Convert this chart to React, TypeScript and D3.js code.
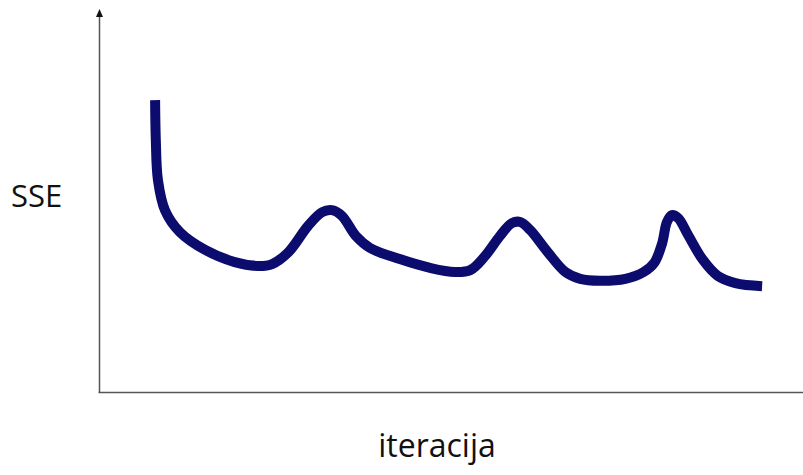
import React from "react";
import * as d3 from "d3";

const iterations = [8.1, 8.2, 8.5, 9.5, 11.6, 15.2, 19.4, 22.7, 24.7, 27.0, 29.8, 31.8, 33.2, 34.6, 36.6, 38.6, 42.8, 47.1, 50.6, 52.8, 54.9, 57.0, 58.7, 59.9, 61.3, 63.8, 66.3, 68.4, 71.2, 74.8, 77.4, 78.9, 80.0, 80.7, 81.4, 82.3, 83.7, 85.8, 87.9, 90.4, 94.2];
const sse = [76.4, 66.0, 55.5, 47.6, 41.9, 37.2, 34.0, 33.0, 33.5, 36.6, 43.5, 47.1, 47.6, 46.1, 40.8, 37.7, 34.8, 32.5, 31.4, 31.9, 35.6, 40.8, 44.2, 44.5, 42.4, 36.6, 31.4, 29.6, 29.1, 29.6, 31.4, 33.8, 38.8, 44.5, 46.3, 45.5, 41.1, 34.6, 30.4, 28.5, 27.7];

const xLabel = "iteracija";
const yLabel = "SSE";

export default function App() {
  const width = 803;
  const height = 475;
  const left = 99.5;
  const bottom = 392.5;
  const top = 10;
  const x = d3.scaleLinear().domain([0, 100]).range([98, 803]);
  const y = d3.scaleLinear().domain([0, 100]).range([392, 10]);
  const pts: [number, number][] = iterations.map((v, i) => [v, sse[i]]);
  const line = d3
    .line<[number, number]>()
    .x((d) => x(d[0]))
    .y((d) => y(d[1]))
    .curve(d3.curveCatmullRom.alpha(0.5));

  return (
    <svg
      width={width}
      height={height}
      style={{ position: "absolute", left: 0, top: 0, background: "#fff" }}
    >
      <line x1={left} y1={bottom} x2={left} y2={top + 5} stroke="#555" strokeWidth={1.5} />
      <path d={`M${left - 3.5},${top + 7} L${left},${top - 1} L${left + 3.5},${top + 7} Z`} fill="#111" />
      <line x1={left - 1} y1={bottom} x2={803} y2={bottom} stroke="#555" strokeWidth={1.5} />
      <path
        d={line(pts) || ""}
        fill="none"
        stroke="#0c0c6e"
        strokeWidth={10}
        strokeLinecap="butt"
        strokeLinejoin="round"
      />
      <text x={11} y={207} fontFamily="'Open Sans', sans-serif" fontSize={31} fill="#111">
        {yLabel}
      </text>
      <text
        x={437}
        y={457}
        textAnchor="middle"
        fontFamily="'Open Sans', sans-serif"
        fontSize={32}
        fill="#111"
      >
        {xLabel}
      </text>
    </svg>
  );
}
